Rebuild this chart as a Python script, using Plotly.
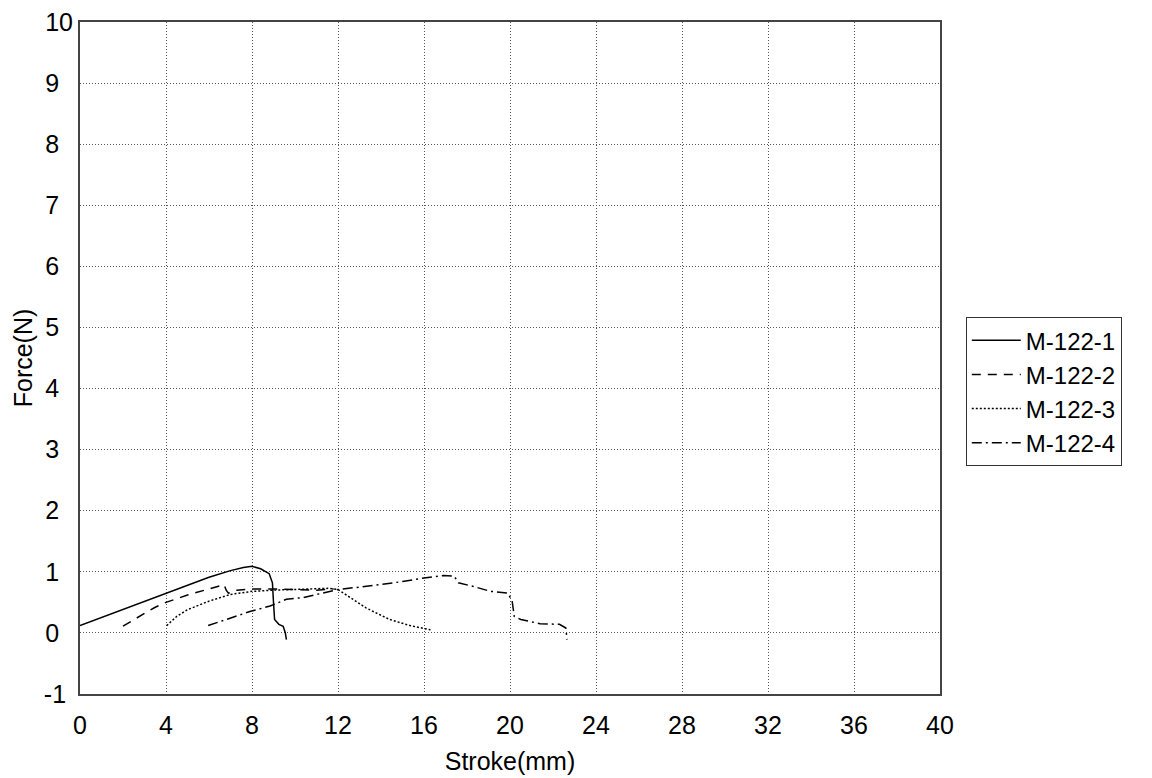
import plotly.graph_objects as go

# M-122-1 (solid)
m1_x = [0.0, 1.0, 2.0, 3.0, 4.0, 5.0, 6.0, 7.0, 7.6, 8.0, 8.4, 8.8, 8.95, 9.0, 9.05, 9.25, 9.45, 9.55, 9.6]
m1_y = [0.12, 0.25, 0.38, 0.51, 0.65, 0.78, 0.91, 1.02, 1.07, 1.09, 1.05, 0.97, 0.82, 0.5, 0.22, 0.14, 0.11, 0.0, -0.11]
# M-122-2 (dashed)
m2_x = [2.0, 2.5, 3.0, 3.5, 4.0, 5.0, 6.0, 6.7, 6.8, 6.9, 7.3, 8.0, 9.0, 10.0, 11.0, 11.8]
m2_y = [0.11, 0.22, 0.32, 0.42, 0.50, 0.62, 0.72, 0.79, 0.70, 0.65, 0.70, 0.72, 0.72, 0.71, 0.70, 0.72]
# M-122-3 (dotted)
m3_x = [4.03, 4.5, 5.0, 6.0, 7.0, 8.0, 9.0, 10.0, 11.0, 11.6, 12.0, 12.5, 13.3, 14.4, 15.35, 16.3]
m3_y = [0.12, 0.27, 0.38, 0.52, 0.63, 0.68, 0.70, 0.71, 0.72, 0.73, 0.71, 0.60, 0.41, 0.22, 0.12, 0.05]
# M-122-4 (dash-dot)
m4_x = [5.96, 7.0, 7.9, 8.84, 9.6, 10.4, 11.0, 12.0, 13.0, 14.0, 15.0, 16.0, 16.9, 17.4, 17.6, 18.3, 19.1, 19.9, 20.1, 20.2, 20.5, 21.4, 22.3, 22.6, 22.65]
m4_y = [0.12, 0.24, 0.35, 0.44, 0.55, 0.58, 0.63, 0.71, 0.75, 0.79, 0.84, 0.90, 0.94, 0.93, 0.82, 0.76, 0.68, 0.65, 0.52, 0.27, 0.22, 0.15, 0.14, 0.08, -0.11]

names = ["M-122-1", "M-122-2", "M-122-3", "M-122-4"]
dashes = ["solid", "9px,7px", "2px,2px", "10px,4px,2px,4px"]
xs = [m1_x, m2_x, m3_x, m4_x]
ys = [m1_y, m2_y, m3_y, m4_y]

x_ticks = [0, 4, 8, 12, 16, 20, 24, 28, 32, 36, 40]
y_ticks = [-1, 0, 1, 2, 3, 4, 5, 6, 7, 8, 9, 10]
y_tick_text = ["-1\u00a0", "0\u00a0\u00a0", "1\u00a0\u00a0", "2\u00a0\u00a0", "3\u00a0\u00a0",
               "4\u00a0\u00a0", "5\u00a0\u00a0", "6\u00a0\u00a0", "7\u00a0\u00a0", "8\u00a0\u00a0",
               "9\u00a0\u00a0", "10"]

fig = go.Figure()
for n, d, x, y in zip(names, dashes, xs, ys):
    fig.add_trace(go.Scatter(x=x, y=y, mode="lines", name=n,
                             line=dict(color="black", width=1.5, dash=d)))

FAM = "Arial, Liberation Sans, sans-serif"
font = dict(family=FAM, size=25, color="black")
fig.update_layout(
    width=1152, height=778,
    margin=dict(l=80, r=212, t=22, b=84),
    paper_bgcolor="white", plot_bgcolor="white",
    font=font,
    legend=dict(x=1.03, y=0.45, xanchor="left", yanchor="middle",
                bordercolor="#333", borderwidth=1, bgcolor="white",
                font=dict(family=FAM, size=24, color="black"),
                tracegroupgap=0, itemwidth=49),
    xaxis=dict(range=[0, 40], tickvals=x_ticks, ticktext=[str(v) for v in x_ticks],
               tickfont=dict(family=FAM, size=25, color="black"), automargin=False,
               showgrid=True, gridcolor="#555", griddash="1px,2px", gridwidth=1,
               zeroline=False, showline=True, linecolor="#444", linewidth=2, mirror=True,
               ticks="", ticklen=0, ticklabelstandoff=8,
               title=dict(text="Stroke(mm)", standoff=14, font=dict(family=FAM, size=25, color="black"))),
    yaxis=dict(range=[-1, 10], tickvals=y_ticks, ticktext=y_tick_text,
               tickfont=dict(family=FAM, size=25, color="black"), automargin=False,
               showgrid=True, gridcolor="#555", griddash="1px,2px", gridwidth=1,
               zeroline=False, showline=True, linecolor="#444", linewidth=2, mirror=True,
               ticks="", ticklen=0, ticklabelstandoff=0,
               title=dict(text="Force(N)", standoff=4, font=dict(family=FAM, size=25, color="black"))),
)
fig.write_html("out.html")
